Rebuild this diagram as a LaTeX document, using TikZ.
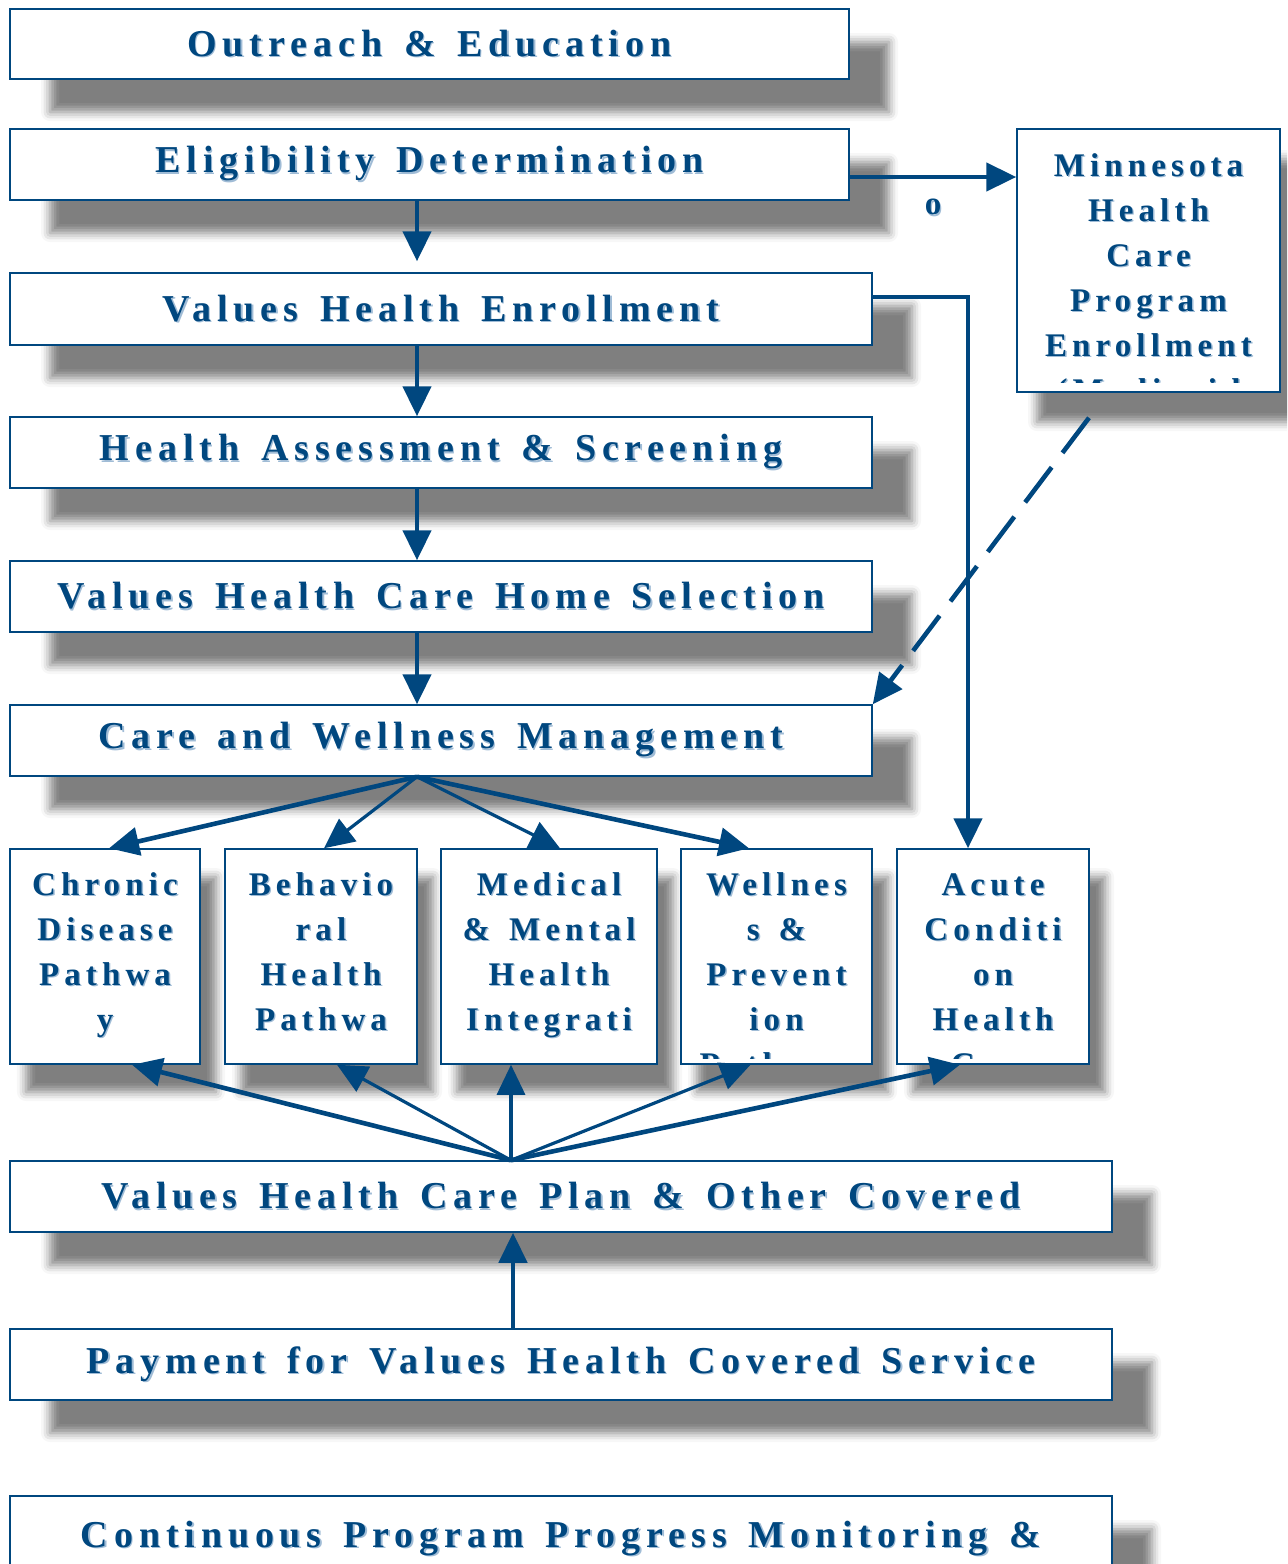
\documentclass[tikz,border=0pt]{standalone}
\usepackage{fontspec}
\newfontfamily\boxfont{Liberation Serif}[LetterSpace=15.5, WordSpace=1.42]
\usetikzlibrary{positioning,arrows.meta,shadows.blur,calc}
\definecolor{navy}{RGB}{0,71,127}
\definecolor{navyshade}{RGB}{160,188,214}

% text with a faint offset shade
\newcommand{\tsh}[1]{\makebox[0pt][l]{\hspace{0.7pt}\raisebox{-0.7pt}{\color{navyshade}#1}}#1}
% lines of a narrow box, clipped to the box as in the original
\newcommand{\boxlines}[4]{%
  \begin{scope}
    \clip ([shift={(2pt,-2pt)}]#1.north west) rectangle ([shift={(-2pt,#3)}]#1.south east);
    \foreach \ln [count=\i, evaluate=\i as \dy using -#2-22.5*(\i-1)] in {#4}
      \node[ptxt, anchor=base] at ([yshift=\dy pt]#1.north) {\tsh{\ln}};
  \end{scope}}

\begin{document}
\begin{tikzpicture}[x=0.5pt, y=-0.5pt,
      bigshadow/.style={blur shadow={shadow xshift=20pt, shadow yshift=-16.5pt,
                  shadow opacity=50, shadow blur radius=4.5pt}},
      smallshadow/.style={blur shadow={shadow xshift=8pt, shadow yshift=-14pt,
                  shadow opacity=50, shadow blur radius=4.5pt}},
      sideshadow/.style={blur shadow={shadow xshift=10pt, shadow yshift=-15pt,
                  shadow opacity=50, shadow blur radius=4.5pt}},
      box/.style={draw=navy, line width=0.75pt, fill=white, inner sep=0pt, text=navy,
                  font=\boxfont\bfseries\fontsize{19}{22}\selectfont},
      wide/.style={box, bigshadow, minimum width=431pt, minimum height=35.5pt},
      pbox/.style={box, smallshadow, minimum width=96pt, minimum height=107.5pt},
      ptxt/.style={text=navy, inner sep=0pt, font=\boxfont\bfseries\fontsize{16.5}{22.5}\selectfont},
      >={Triangle[length=15pt,width=14pt]},
      arrow/.style={->, line width=2.3pt, navy},
      slim/.style={arrow, line width=1.6pt}
    ]
    \useasboundingbox (0,0) rectangle (1287,1564);
    \clip (0,0) rectangle (1287,1564);
    % main column
    \node[wide, minimum width=419.5pt, minimum height=35pt] (out) at (429.5,44) {\tsh{Outreach \& Education}};
    \node[wide, minimum width=419.5pt] (elg) at (429.5,164.5) {\tsh{Eligibility Determination}};
    \node[wide, minimum height=36pt] (enr) at (441,309) {\tsh{Values Health Enrollment}};
    \node[wide] (asm) at (441,452.5) {\tsh{Health Assessment \& Screening}};
    \node[wide] (hom) at (441,596.5) {\tsh{Values Health Care Home Selection}};
    \node[wide] (cwm) at (441,740.5) {\tsh{Care and Wellness Management}};
    \node[wide, minimum width=551pt] (pln) at (561,1196.5) {\tsh{Values Health Care Plan \& Other Covered}};
    \node[wide, minimum width=551pt] (pay) at (561,1364.5) {\tsh{Payment for Values Health Covered Service}};
    \node[wide, minimum width=551pt, minimum height=43pt] (mon) at (561,1539) {\tsh{Continuous Program Progress Monitoring \&}};
    % side box
    \node[box, sideshadow, minimum width=131.5pt, minimum height=131.5pt] (mhc) at (1148.5,260.5) {};
    \boxlines{mhc}{24}{5pt}{Minnesota,Health,Care,Program,Enrollment,{(Medicaid}}
    % pathways
    \node[pbox, minimum width=95pt] (chr) at (105,956.5) {};
    \node[pbox] (beh) at (321,956.5) {};
    \node[pbox, minimum width=108pt] (med) at (549,956.5) {};
    \node[pbox, minimum width=95.5pt] (wel) at (776.5,956.5) {};
    \node[pbox] (acu) at (993,956.5) {};
    \boxlines{chr}{23.5}{3pt}{Chronic,Disease,Pathwa,y}
    \boxlines{beh}{23.5}{3pt}{Behavio,ral,Health,Pathwa,y}
    \boxlines{med}{23.5}{3pt}{Medical,\& Mental,Health,Integrati,on}
    \boxlines{wel}{23.5}{3pt}{Wellnes,s \&,Prevent,ion,Pathway}
    \boxlines{acu}{23.5}{3pt}{Acute,Conditi,on,Health,Care}
    % connectors
    \draw[arrow, shorten >=5.5pt] ([xshift=-6.25pt]elg.south) -- ([xshift=-6.25pt]elg.south |- enr.north);
    \draw[arrow] ([xshift=-12pt]enr.south) -- ([xshift=-12pt]asm.north);
    \draw[arrow] ([xshift=-12pt]asm.south) -- ([xshift=-12pt]hom.north);
    \draw[arrow] ([xshift=-12pt]hom.south) -- ([xshift=-12pt]cwm.north);
    \draw[arrow] ([yshift=-6.25pt]elg.east) -- ([yshift=-6.25pt]elg.east -| mhc.west)
      node[midway, below=10pt, ptxt] (lo) {\tsh{o}};
    \draw[arrow] ([yshift=6pt]enr.east) -| ([xshift=-12.5pt]acu.north);
    \draw[arrow, dash pattern=on 22pt off 9pt] ([shift={(-29.75pt,-12.5pt)}]mhc.south) -- (cwm.north east);
    \draw[arrow] ([xshift=-12pt]cwm.south) -- ([xshift=2pt]chr.north);
    \draw[slim] ([xshift=-12pt]cwm.south) -- ([xshift=1.5pt]beh.north);
    \draw[slim] ([xshift=-12pt]cwm.south) -- ([xshift=5.5pt]med.north);
    \draw[arrow] ([xshift=-12pt]cwm.south) -- ([xshift=-13.75pt]wel.north);
    \draw[arrow] ([xshift=-25pt]pln.north) -- ([xshift=13.5pt]chr.south);
    \draw[slim] ([xshift=-25pt]pln.north) -- ([xshift=8pt]beh.south);
    \draw[slim] ([xshift=-25pt]pln.north) -- ([xshift=-19pt]med.south);
    \draw[slim] ([xshift=-25pt]pln.north) -- ([xshift=-13pt]wel.south);
    \draw[arrow] ([xshift=-25pt]pln.north) -- ([xshift=-16.5pt]acu.south);
    \draw[arrow] ([xshift=-24pt]pay.north) -- ([xshift=-24pt]pln.south);
  \end{tikzpicture}
\end{document}
